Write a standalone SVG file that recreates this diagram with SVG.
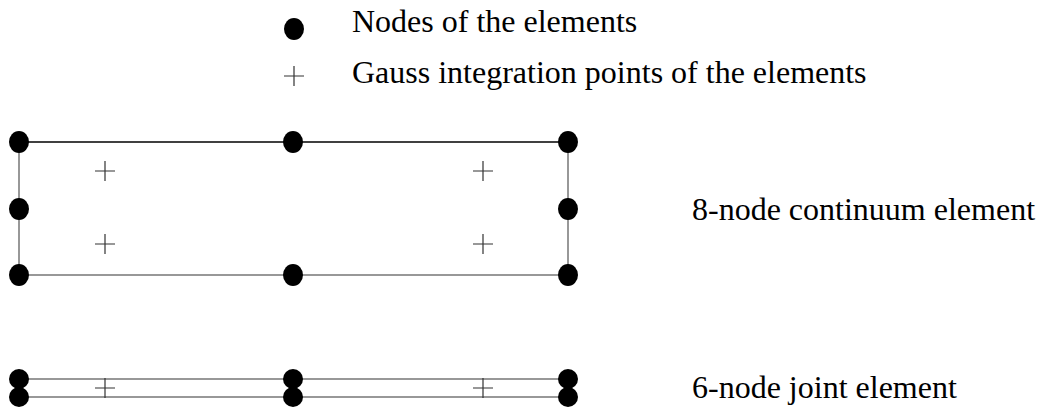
<svg xmlns="http://www.w3.org/2000/svg" width="1039" height="409" viewBox="0 0 1039 409">
<defs>
<style>
.node{fill:#000}
.gp{stroke:#333;stroke-width:1.2;fill:none}
.edge{stroke:#777;stroke-width:1.5;fill:none}
.edgeb{stroke:#000;stroke-width:1.3;fill:none}
.lbl{font-family:"Liberation Serif","Times New Roman",serif;font-size:32px;fill:#000}
</style>
<g id="gplus"><path class="gp" d="M-10 0H10M0 -10V10"/></g>
</defs>
<rect width="1039" height="409" fill="#fff"/>
<g id="legend">
<ellipse class="node" cx="294" cy="29" rx="10" ry="11"/>
<text class="lbl" x="352" y="32">Nodes of the elements</text>
<use href="#gplus" x="294" y="76"/>
<text class="lbl" x="352" y="83">Gauss integration points of the elements</text>
</g>
<g id="connectors">
<path class="edgeb" d="M19 142H568"/>
<path class="edge" d="M19 142V275M568 142V275M19 275H568"/>
<path class="edge" d="M19 379H568M19 397H568"/>
</g>
<g id="continuum-element">
<ellipse class="node" cx="19" cy="142" rx="10" ry="11"/>
<ellipse class="node" cx="293" cy="142" rx="10" ry="11"/>
<ellipse class="node" cx="568" cy="142" rx="10" ry="11"/>
<ellipse class="node" cx="19" cy="209" rx="10" ry="11"/>
<ellipse class="node" cx="568" cy="209" rx="10" ry="11"/>
<ellipse class="node" cx="19" cy="275" rx="10" ry="11"/>
<ellipse class="node" cx="293" cy="275" rx="10" ry="11"/>
<ellipse class="node" cx="568" cy="275" rx="10" ry="11"/>
<use href="#gplus" x="105" y="171"/>
<use href="#gplus" x="483" y="171"/>
<use href="#gplus" x="105" y="244"/>
<use href="#gplus" x="483" y="244"/>
<text class="lbl" x="692" y="220">8-node continuum element</text>
</g>
<g id="joint-element">
<ellipse class="node" cx="19" cy="379" rx="10" ry="10"/>
<ellipse class="node" cx="19" cy="397" rx="10" ry="10"/>
<ellipse class="node" cx="293" cy="379" rx="10" ry="10"/>
<ellipse class="node" cx="293" cy="397" rx="10" ry="10"/>
<ellipse class="node" cx="568" cy="379" rx="10" ry="10"/>
<ellipse class="node" cx="568" cy="397" rx="10" ry="10"/>
<use href="#gplus" x="105" y="388"/>
<use href="#gplus" x="483" y="388"/>
<text class="lbl" x="692" y="398">6-node joint element</text>
</g>
</svg>
